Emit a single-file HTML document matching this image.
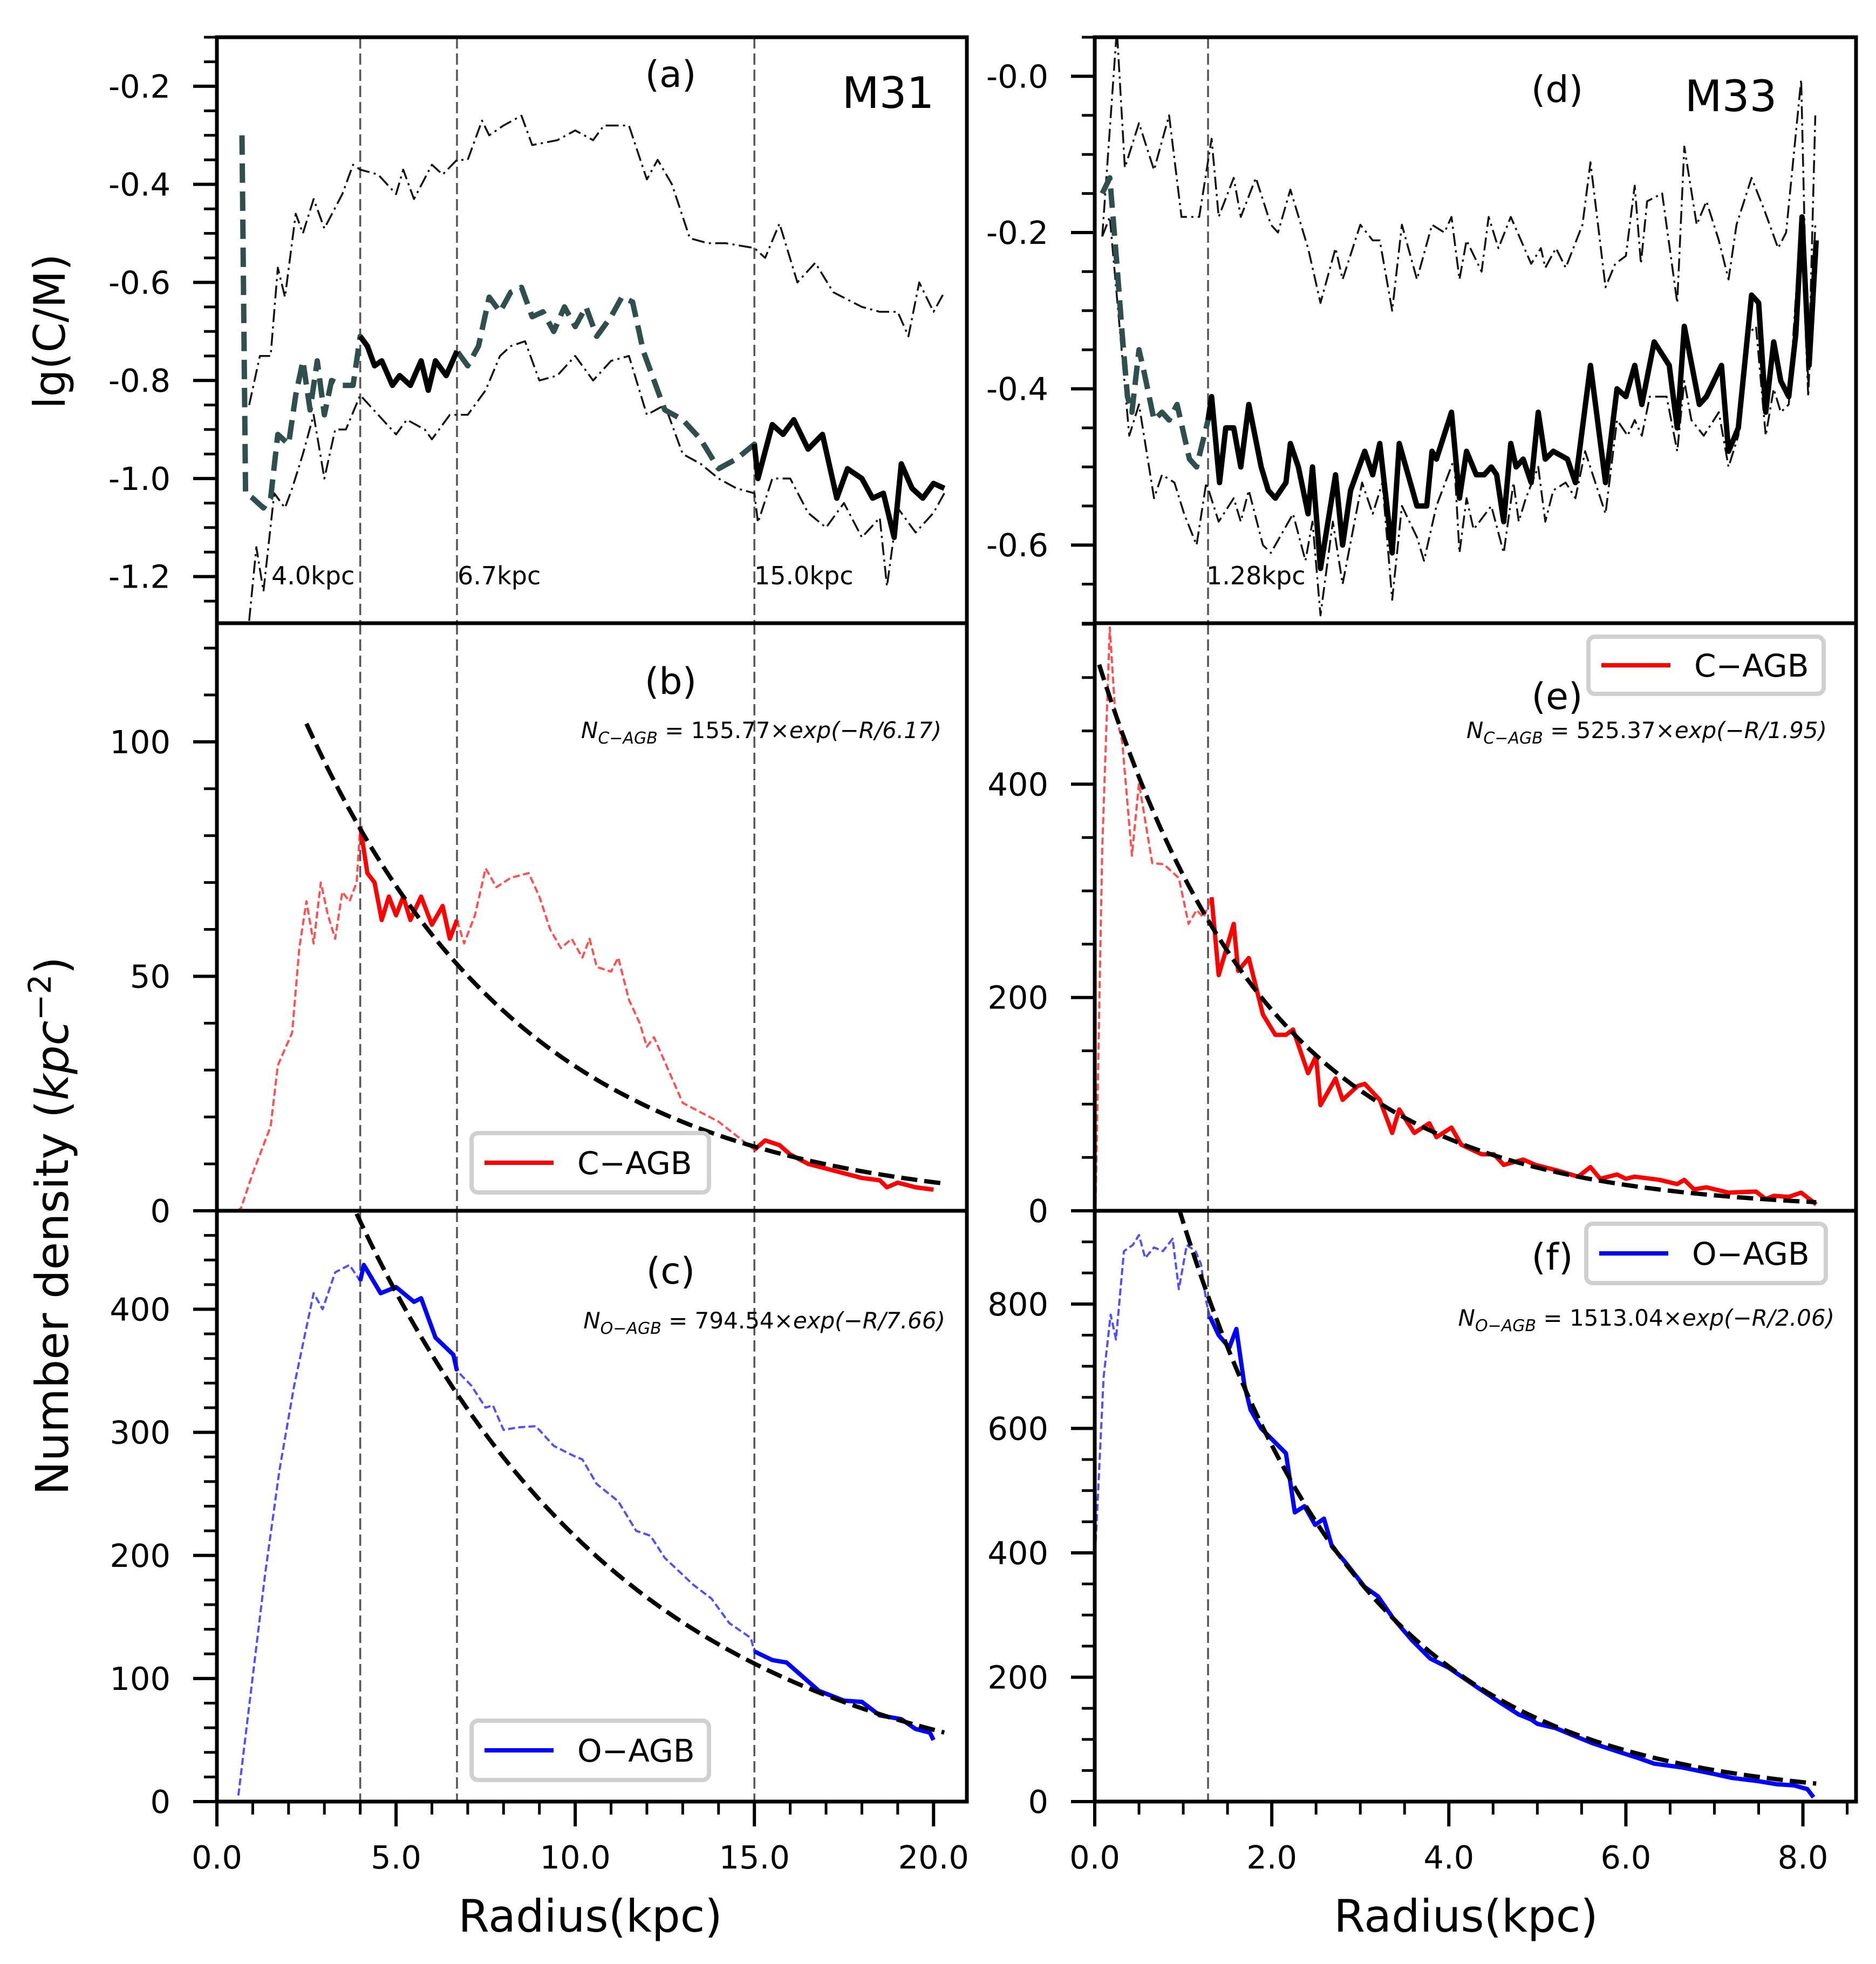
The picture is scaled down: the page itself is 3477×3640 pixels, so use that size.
<!DOCTYPE html>
<html><head><meta charset="utf-8">
<style>
html,body{margin:0;padding:0;background:#fff;}
svg{display:block;font-family:"DejaVu Sans","Liberation Sans",sans-serif;}
</style></head>
<body>
<svg id="fig" xmlns="http://www.w3.org/2000/svg" width="3477" height="3640" viewBox="0 0 3477 3640">
<rect x="0" y="0" width="3477" height="3640" fill="#fff"/>
</svg>
<script>
// ---------- DATA ----------
// Panel (a) M31 lg(C/M)
const aRatioR = [0.7,0.8,1.0,1.3,1.5,1.7,2.0,2.2,2.4,2.6,2.8,3.0,3.2,3.5,3.8,4.0,4.2,4.4,4.6,4.9,5.1,5.4,5.7,5.9,6.1,6.4,6.7,7.0,7.3,7.6,7.9,8.2,8.5,8.8,9.1,9.4,9.7,10.0,10.3,10.6,11.0,11.3,11.6,11.9,12.2,12.5,13.0,13.5,14.0,14.5,15.0,15.1,15.5,15.8,16.1,16.5,16.9,17.3,17.6,18.0,18.3,18.6,18.9,19.1,19.4,19.7,20.0,20.3];
const aRatioV = [-0.3,-1.03,-1.04,-1.06,-1.04,-0.91,-0.93,-0.83,-0.76,-0.86,-0.76,-0.87,-0.8,-0.81,-0.81,-0.71,-0.73,-0.77,-0.76,-0.81,-0.79,-0.81,-0.76,-0.82,-0.76,-0.79,-0.74,-0.77,-0.73,-0.63,-0.66,-0.62,-0.61,-0.67,-0.66,-0.7,-0.65,-0.69,-0.65,-0.71,-0.67,-0.63,-0.64,-0.74,-0.8,-0.86,-0.88,-0.92,-0.98,-0.96,-0.93,-1.0,-0.89,-0.91,-0.88,-0.94,-0.91,-1.04,-0.98,-1.0,-1.04,-1.03,-1.12,-0.97,-1.02,-1.04,-1.01,-1.02];
const aUpR = [0.9,1.2,1.5,1.7,1.9,2.2,2.4,2.7,3.0,3.5,3.8,4.0,4.5,5.0,5.2,5.5,6.0,6.3,6.7,7.0,7.4,7.6,8.0,8.5,8.8,9.5,10.0,10.5,10.8,11.5,12.0,12.3,12.7,13.2,13.7,14.2,15.0,15.3,15.7,16.2,16.7,17.2,18.0,18.5,19.0,19.3,19.6,20.0,20.3];
const aUpV = [-0.85,-0.75,-0.75,-0.57,-0.63,-0.46,-0.5,-0.43,-0.49,-0.42,-0.36,-0.37,-0.38,-0.42,-0.37,-0.43,-0.36,-0.38,-0.35,-0.35,-0.27,-0.3,-0.28,-0.26,-0.32,-0.31,-0.29,-0.31,-0.28,-0.28,-0.39,-0.35,-0.4,-0.51,-0.52,-0.52,-0.53,-0.55,-0.48,-0.6,-0.56,-0.62,-0.65,-0.66,-0.66,-0.71,-0.6,-0.66,-0.62];
const aLowR = [0.9,1.1,1.3,1.6,1.9,2.1,2.4,2.7,3.0,3.3,3.6,4.0,4.5,5.0,5.3,5.8,6.0,6.5,7.0,7.5,7.9,8.2,8.6,9.0,9.5,10.0,10.5,11.0,11.5,12.0,12.5,13.0,13.5,14.0,14.5,15.0,15.1,15.5,16.0,16.5,17.0,17.5,18.0,18.5,18.7,19.0,19.5,20.0,20.3];
const aLowV = [-1.29,-1.14,-1.23,-1.03,-1.06,-1.02,-0.95,-0.87,-1.0,-0.9,-0.9,-0.83,-0.87,-0.91,-0.88,-0.9,-0.92,-0.87,-0.87,-0.82,-0.75,-0.73,-0.72,-0.8,-0.79,-0.75,-0.8,-0.76,-0.75,-0.87,-0.85,-0.95,-0.97,-1.0,-1.02,-1.03,-1.09,-1.0,-1.0,-1.07,-1.1,-1.05,-1.12,-1.08,-1.22,-1.06,-1.11,-1.07,-1.03];
// Panel (b) M31 C-AGB density
const bR = [0.55,0.67,1.0,1.5,1.7,2.1,2.3,2.5,2.7,2.9,3.1,3.3,3.5,3.7,3.9,4.0,4.2,4.4,4.6,4.8,5.0,5.2,5.4,5.7,6.0,6.3,6.5,6.7,6.9,7.2,7.5,7.8,8.2,8.7,9.0,9.3,9.6,9.9,10.2,10.4,10.6,11.0,11.2,11.5,11.8,12.0,12.2,12.6,13.0,13.5,14.0,14.5,15.0,15.3,15.7,16.0,16.5,17.0,17.5,18.0,18.5,18.7,19.0,19.5,20.0];
const bV = [0,0.5,8,18,31,38,56,66,57,70,63,58,68,66,70,82,72,70,62,67,63,67,62,67,61,65,58,62,57,63,73,69,71,72,67,60,56,58,54,58,52,51,54,45,40,35,37,30,23,21,19,16,13,15,14,12,10,9,8,7,6.5,5,6,5,4.5];
// Panel (c) M31 O-AGB density
const cR = [0.6,1.35,1.75,2.15,2.7,2.95,3.3,3.7,4.0,4.1,4.57,5.0,5.5,5.7,6.1,6.6,6.7,7.1,7.5,7.7,8.0,8.4,8.9,9.4,9.95,10.2,10.6,11.2,11.7,12.1,12.5,13.3,13.8,14.3,14.9,15.0,15.5,15.9,16.8,17.5,18.0,18.5,19.1,19.5,19.9,20.0];
const cV = [5,186,270,337,413,400,430,436,423,436,413,418,406,409,377,363,350,338,320,322,302,304,305,289,281,278,258,244,220,216,198,176,165,145,133,122,115,113,90,82,81,70,67,59,56,50];
// Panel (d) M33 lg(C/M)
const dRatioR = [0.085,0.17,0.25,0.31,0.37,0.42,0.5,0.56,0.67,0.76,0.84,0.93,1.07,1.15,1.28,1.32,1.41,1.48,1.57,1.65,1.74,1.88,1.96,2.04,2.16,2.21,2.3,2.41,2.46,2.55,2.72,2.8,2.89,3.05,3.14,3.22,3.36,3.44,3.64,3.75,3.81,3.86,4.03,4.12,4.2,4.31,4.4,4.48,4.54,4.62,4.7,4.76,4.84,4.93,5.01,5.09,5.18,5.34,5.43,5.6,5.77,5.9,6.0,6.1,6.18,6.32,6.49,6.58,6.66,6.83,6.91,7.08,7.16,7.27,7.42,7.5,7.58,7.67,7.75,7.84,7.92,7.99,8.07,8.15];
const dRatioV = [-0.15,-0.13,-0.24,-0.33,-0.41,-0.43,-0.35,-0.38,-0.44,-0.43,-0.44,-0.42,-0.49,-0.5,-0.44,-0.41,-0.52,-0.45,-0.45,-0.5,-0.42,-0.5,-0.53,-0.54,-0.52,-0.47,-0.5,-0.56,-0.5,-0.63,-0.51,-0.6,-0.53,-0.48,-0.51,-0.47,-0.61,-0.47,-0.55,-0.55,-0.48,-0.49,-0.43,-0.54,-0.48,-0.51,-0.51,-0.5,-0.51,-0.57,-0.47,-0.5,-0.49,-0.52,-0.43,-0.49,-0.48,-0.49,-0.52,-0.37,-0.52,-0.4,-0.41,-0.37,-0.42,-0.34,-0.37,-0.45,-0.32,-0.42,-0.41,-0.37,-0.48,-0.45,-0.28,-0.29,-0.43,-0.34,-0.39,-0.41,-0.33,-0.18,-0.37,-0.21];
const dUpR = [0.085,0.25,0.34,0.5,0.67,0.84,0.98,1.18,1.32,1.4,1.57,1.65,1.82,1.99,2.07,2.21,2.41,2.55,2.72,2.8,3.0,3.14,3.22,3.36,3.47,3.64,3.81,3.95,4.03,4.12,4.2,4.37,4.45,4.56,4.7,4.93,5.04,5.09,5.21,5.32,5.51,5.6,5.77,5.88,6.0,6.1,6.17,6.24,6.41,6.58,6.66,6.8,6.91,7.05,7.16,7.25,7.42,7.56,7.72,7.81,7.98,8.06,8.14];
const dUpV = [-0.205,0.06,-0.117,-0.06,-0.12,-0.05,-0.18,-0.18,-0.08,-0.18,-0.13,-0.18,-0.13,-0.19,-0.2,-0.145,-0.22,-0.29,-0.22,-0.26,-0.19,-0.21,-0.21,-0.3,-0.19,-0.26,-0.19,-0.2,-0.18,-0.26,-0.21,-0.25,-0.18,-0.22,-0.18,-0.24,-0.22,-0.245,-0.22,-0.245,-0.19,-0.11,-0.27,-0.24,-0.23,-0.14,-0.24,-0.16,-0.15,-0.29,-0.09,-0.19,-0.16,-0.21,-0.26,-0.19,-0.13,-0.17,-0.22,-0.2,-0.004,-0.4,-0.05];
const dLowR = [0.085,0.17,0.39,0.5,0.67,0.76,0.9,1.01,1.15,1.26,1.4,1.57,1.65,1.74,1.9,1.99,2.24,2.38,2.46,2.55,2.69,2.8,3.02,3.14,3.25,3.36,3.47,3.64,3.72,3.86,4.06,4.12,4.2,4.28,4.48,4.62,4.73,4.79,4.87,5.01,5.09,5.18,5.32,5.43,5.54,5.77,5.9,6.02,6.1,6.18,6.27,6.46,6.58,6.66,6.74,6.88,7.05,7.16,7.27,7.38,7.47,7.58,7.67,7.75,7.84,7.98,8.06,8.14];
const dLowV = [-0.205,-0.18,-0.46,-0.42,-0.54,-0.51,-0.52,-0.56,-0.6,-0.52,-0.57,-0.54,-0.57,-0.53,-0.6,-0.61,-0.56,-0.62,-0.57,-0.69,-0.57,-0.65,-0.52,-0.56,-0.52,-0.67,-0.55,-0.59,-0.62,-0.55,-0.49,-0.61,-0.54,-0.58,-0.55,-0.61,-0.52,-0.57,-0.54,-0.5,-0.57,-0.53,-0.52,-0.54,-0.48,-0.56,-0.44,-0.46,-0.44,-0.46,-0.41,-0.41,-0.48,-0.39,-0.44,-0.46,-0.43,-0.5,-0.46,-0.33,-0.32,-0.46,-0.4,-0.43,-0.42,-0.18,-0.41,-0.19];
// Panel (e) M33 C-AGB density
const eR = [0.01,0.085,0.17,0.23,0.31,0.42,0.5,0.65,0.78,0.95,1.06,1.15,1.23,1.32,1.4,1.57,1.62,1.74,1.9,2.04,2.16,2.24,2.41,2.5,2.55,2.72,2.8,2.97,3.05,3.22,3.36,3.44,3.61,3.78,3.86,4.03,4.14,4.37,4.51,4.62,4.84,4.98,5.26,5.46,5.6,5.71,5.9,6.0,6.1,6.38,6.58,6.66,6.77,6.91,7.16,7.47,7.58,7.67,7.84,7.98,8.15];
const eV = [7,340,547,468,440,333,401,326,325,312,269,282,275,294,221,269,225,237,184,165,165,170,129,145,99,124,104,117,119,104,73,95,73,82,69,78,62,53,53,43,48,43,37,32,41,30,34,30,32,29,25,29,20,22,17,18,11,14,13,17,6];
// Panel (f) M33 O-AGB density
const fR = [0.0,0.1,0.18,0.24,0.33,0.43,0.5,0.57,0.67,0.77,0.88,0.95,1.04,1.14,1.2,1.26,1.3,1.4,1.52,1.6,1.69,1.76,1.88,2.02,2.16,2.26,2.37,2.49,2.59,2.68,2.83,2.94,3.05,3.2,3.37,3.58,3.79,4.0,4.36,4.57,4.79,4.93,5.0,5.21,5.43,5.62,5.92,6.14,6.32,6.63,7.01,7.2,7.49,7.7,7.9,8.05,8.12];
const fV = [385,682,783,743,885,895,911,874,891,885,905,824,895,885,864,804,780,750,730,760,670,630,600,580,560,465,475,445,455,410,385,365,345,330,295,260,230,215,180,160,140,132,125,118,105,94,80,70,61,55,44,38,33,28,26,20,7];
// Exponential fit parameters
const fitAmp = [155.77, 794.54, 525.37, 1513.04];
const fitScale = [6.17, 7.66, 1.95, 2.06];
const fitRange = [[2.5,20.3],[3.9,20.3],[0.05,8.15],[0.95,8.15]];
const boundM31 = [4.0, 6.7, 15.0];
const boundM33 = [1.28];
const ticksXLeft = [0,5,10,15,20];
const ticksXRight = [0,2,4,6,8];
const ticksA = [-1.2,-1.0,-0.8,-0.6,-0.4,-0.2];
const ticksB = [0,50,100];
const ticksC = [0,100,200,300,400];
const ticksD = [-0.6,-0.4,-0.2,0.0];
const ticksE = [0,200,400];
const ticksF = [0,200,400,600,800];

// ---------- RENDER ----------
const NS = "http://www.w3.org/2000/svg";
const svg = document.getElementById('fig');
function mk(tag, attrs, parent){
  const e = document.createElementNS(NS, tag);
  for (const k in attrs) e.setAttribute(k, attrs[k]);
  (parent||svg).appendChild(e);
  return e;
}
function panel(x0,x1,y0,y1,xmin,xmax,ymin,ymax){
  return {x0,x1,y0,y1,
    sx: v => x0 + (v-xmin)/(xmax-xmin)*(x1-x0),
    sy: v => y1 - (v-ymin)/(ymax-ymin)*(y1-y0)};
}
const L0=402, L1=1792, R0=2029, R1=3440;
const Y = [69,1155,2244,3339];
const P = {
  a: panel(L0,L1,Y[0],Y[1],0,20.93,-1.295,-0.1),
  b: panel(L0,L1,Y[1],Y[2],0,20.93,0,125.3),
  c: panel(L0,L1,Y[2],Y[3],0,20.93,0,480),
  d: panel(R0,R1,Y[0],Y[1],0,8.6,-0.7,0.05),
  e: panel(R0,R1,Y[1],Y[2],0,8.6,0,551),
  f: panel(R0,R1,Y[2],Y[3],0,8.6,0,950)
};
const defs = mk('defs',{});
for (const k in P){
  const p=P[k];
  const cp = mk('clipPath',{id:'clip-'+k},defs);
  mk('rect',{x:p.x0,y:p.y0,width:p.x1-p.x0,height:p.y1-p.y0},cp);
}
function pathD(p,xs,ys){
  let d='';
  for(let i=0;i<xs.length;i++){ d += (i?'L':'M') + p.sx(xs[i]).toFixed(1)+','+p.sy(ys[i]).toFixed(1); }
  return d;
}
function line(k,xs,ys,style,name){
  const p=P[k];
  const el = mk('path',Object.assign({d:pathD(p,xs,ys),fill:'none','clip-path':'url(#clip-'+k+')','stroke-linejoin':'round'},style));
  
  
  return el;
}
function seg(xs,ys,lo,hi,extend){
  let i0=-1,i1=-1;
  for(let i=0;i<xs.length;i++){ if(xs[i]>=lo && xs[i]<=hi){ if(i0<0)i0=i; i1=i; } }
  if(i0<0) return null;
  if(extend){ i0=Math.max(0,i0-1); i1=Math.min(xs.length-1,i1+1); }
  return [xs.slice(i0,i1+1), ys.slice(i0,i1+1)];
}
function drawSplit(k,xs,ys,dashedRanges,solidRanges,dashStyle,solidStyle,name){
  dashedRanges.forEach(r=>{const s=seg(xs,ys,r[0],r[1],true); if(s) line(k,s[0],s[1],dashStyle,name+'-dashed');});
  solidRanges.forEach(r=>{const s=seg(xs,ys,r[0],r[1],false); if(s) line(k,s[0],s[1],solidStyle,name+'-solid');});
}
function fit(k,i,name){
  const xs=[],ys=[]; const r=fitRange[i];
  for(let j=0;j<=120;j++){ const x=r[0]+(r[1]-r[0])*j/120; xs.push(x); ys.push(fitAmp[i]*Math.exp(-x/fitScale[i])); }
  line(k,xs,ys,{stroke:'#000','stroke-width':8,'stroke-dasharray':'30,13'},name);
}
function vline(k,x,name){
  const p=P[k];
  const el=mk('line',{x1:p.sx(x),x2:p.sx(x),y1:p.y0,y2:p.y1,stroke:'#555','stroke-width':3.5,'stroke-dasharray':'21,9'});
  
  
}
const DASHDOT={stroke:'#111','stroke-width':3.5,'stroke-dasharray':'24,8,4,8'};
const GREEN={stroke:'#2f4f4f','stroke-width':10,'stroke-dasharray':'36,16'};
const BLACK={stroke:'#000','stroke-width':10};
const M31D=[[0,4.0],[6.7,15.0]], M31S=[[4.0,6.7],[15.0,30]];
const M33D=[[0,1.28]], M33S=[[1.28,30]];

['a','b','c'].forEach(k=>boundM31.forEach(b=>vline(k,b,'boundary-line-'+b)));
['d','e','f'].forEach(k=>boundM33.forEach(b=>vline(k,b,'boundary-line-'+b)));

const RDASH={stroke:'#ff3030','stroke-width':4,'stroke-dasharray':'13,6','stroke-opacity':0.85};
const BDASH={stroke:'#3030ff','stroke-width':4,'stroke-dasharray':'13,6','stroke-opacity':0.85};
line('a',aUpR,aUpV,DASHDOT,'m31-upper-bound');
line('a',aLowR,aLowV,DASHDOT,'m31-lower-bound');
drawSplit('a',aRatioR,aRatioV,M31D,M31S,GREEN,BLACK,'m31-ratio');
drawSplit('b',bR,bV,M31D,M31S,RDASH,{stroke:'#ff0000','stroke-width':8},'m31-cagb');
fit('b',0,'m31-cagb-fit');
drawSplit('c',cR,cV,M31D,M31S,BDASH,{stroke:'#0000ff','stroke-width':8},'m31-oagb');
fit('c',1,'m31-oagb-fit');
line('d',dUpR,dUpV,DASHDOT,'m33-upper-bound');
line('d',dLowR,dLowV,DASHDOT,'m33-lower-bound');
drawSplit('d',dRatioR,dRatioV,M33D,M33S,GREEN,BLACK,'m33-ratio');
drawSplit('e',eR,eV,M33D,M33S,RDASH,{stroke:'#ff0000','stroke-width':8},'m33-cagb');
fit('e',2,'m33-cagb-fit');
drawSplit('f',fR,fV,M33D,M33S,BDASH,{stroke:'#0000ff','stroke-width':8},'m33-oagb');
fit('f',3,'m33-oagb-fit');

function text(x,y,str,size,anchor,name,extra){
  const t=mk('text',Object.assign({x:x,y:y,'font-size':size,'text-anchor':anchor||'start',fill:'#000'},extra||{}));
  t.textContent=str;
  
  
  return t;
}
function yAxis(k,ticks,minorStep,fmt,name){
  const p=P[k];
  const vmin = ticks[0]-40*minorStep, vmax=ticks[ticks.length-1]+40*minorStep;
  for(let v=Math.ceil(vmin/minorStep)*minorStep; v<=vmax; v+=minorStep){
    const y=p.sy(v); if(y<p.y0-1||y>p.y1+1) continue;
    mk('line',{x1:p.x0-24,x2:p.x0,y1:y,y2:y,stroke:'#000','stroke-width':5});
  }
  ticks.forEach(v=>{
    const y=p.sy(v);
    mk('line',{x1:p.x0-44,x2:p.x0,y1:y,y2:y,stroke:'#000','stroke-width':6});
    text(p.x0-86,y+21,fmt(v),59,'end',name+'-tick-label');
  });
}
function xAxis(k,ticks,minorStep,name){
  const p=P[k];
  for(let v=0; v<=ticks[ticks.length-1]+minorStep*2; v+=minorStep){
    const x=p.sx(v); if(x>p.x1+1) continue;
    mk('line',{x1:x,x2:x,y1:p.y1,y2:p.y1+24,stroke:'#000','stroke-width':5});
  }
  ticks.forEach(v=>{
    const x=p.sx(v);
    mk('line',{x1:x,x2:x,y1:p.y1,y2:p.y1+46,stroke:'#000','stroke-width':6});
    text(x,p.y1+124,v.toFixed(1),59,'middle',name+'-tick-label');
  });
}
const fmtA = v => (v<=0?'-':'')+Math.abs(v).toFixed(1);
const fmtI = v => String(v);
yAxis('a',ticksA,0.05,fmtA,'m31-ratio-y');
yAxis('b',ticksB,10,fmtI,'m31-cagb-y');
yAxis('c',ticksC,20,fmtI,'m31-oagb-y');
yAxis('d',ticksD,0.05,fmtA,'m33-ratio-y');
yAxis('e',ticksE,50,fmtI,'m33-cagb-y');
yAxis('f',ticksF,50,fmtI,'m33-oagb-y');
xAxis('c',ticksXLeft,1,'m31-x');
xAxis('f',ticksXRight,0.5,'m33-x');
for(const k in P){
  const p=P[k];
  const r=mk('rect',{x:p.x0,y:p.y0,width:p.x1-p.x0,height:p.y1-p.y0,fill:'none',stroke:'#000','stroke-width':7});
  
  
}

function legend(x,y,w,h,color,label,name){
  const g=mk('g',{});
  
  
  mk('rect',{x:x,y:y,width:w,height:h,rx:12,fill:'#fff',stroke:'#d0d0d0','stroke-width':8},g);
  mk('line',{x1:x+24,x2:x+152,y1:y+h/2,y2:y+h/2,stroke:color,'stroke-width':8},g);
  const t=mk('text',{x:x+196,y:y+h/2+21,'font-size':58,fill:'#000'},g);
  t.textContent=label;
}
legend(874,2100,440,110,'#ff0000','C\u2212AGB','m31-cagb-legend');
legend(874,3189,440,110,'#0000ff','O\u2212AGB','m31-oagb-legend');
legend(2944,1180,436,106,'#ff0000','C\u2212AGB','m33-cagb-legend');
legend(2940,2268,444,110,'#0000ff','O\u2212AGB','m33-oagb-legend');

text(1243,161,'(a)',68,'middle','panel-label-a');
text(1646,200,'M31',80,'middle','galaxy-label-m31');
text(1243,1286,'(b)',68,'middle','panel-label-b');
text(1243,2379,'(c)',68,'middle','panel-label-c');
text(2886,189,'(d)',68,'middle','panel-label-d');
text(3208,206,'M33',80,'middle','galaxy-label-m33');
text(2886,1314,'(e)',68,'middle','panel-label-e');
text(2877,2353,'(f)',68,'middle','panel-label-f');
text(503,1083,'4.0kpc',46,'start','boundary-label-4');
text(848,1083,'6.7kpc',46,'start','boundary-label-6-7');
text(1398,1083,'15.0kpc',46,'start','boundary-label-15');
text(2236,1083,'1.28kpc',46,'start','boundary-label-1-28');
function eq(xr,y,sub,rest,name){
  const t=mk('text',{x:xr,y:y,'font-size':42,'text-anchor':'end',fill:'#000'});
  
  
  const a=mk('tspan',{'font-style':'italic'},t); a.textContent='N';
  const b=mk('tspan',{'font-style':'italic','font-size':30,dy:10},t); b.textContent=sub;
  const c=mk('tspan',{dy:-10},t); c.textContent=rest[0];
  const d=mk('tspan',{'font-style':'italic'},t); d.textContent=rest[1];
}
eq(1745,1368,'C\u2212AGB',[' = 155.77\u00d7','exp(\u2212R/6.17)'],'m31-cagb-fit-equation');
eq(1752,2462,'O\u2212AGB',[' = 794.54\u00d7','exp(\u2212R/7.66)'],'m31-oagb-fit-equation');
eq(3386,1368,'C\u2212AGB',[' =  525.37\u00d7','exp(\u2212R/1.95)'],'m33-cagb-fit-equation');
eq(3400,2457,'O\u2212AGB',[' = 1513.04\u00d7','exp(\u2212R/2.06)'],'m33-oagb-fit-equation');
text(1094,3580,'Radius(kpc)',83,'middle','x-axis-title-m31');
text(2717,3580,'Radius(kpc)',83,'middle','x-axis-title-m33');
text(0,0,'lg(C/M)',80,'middle','y-axis-title-ratio',{transform:'translate(120,614) rotate(-90)'});
const yt2=mk('text',{'font-size':84,'text-anchor':'middle',transform:'translate(126,2272) rotate(-90)',fill:'#000'});


const s1=mk('tspan',{},yt2); s1.textContent='Number density (';
const s2=mk('tspan',{'font-style':'italic'},yt2); s2.textContent='kpc';
const s3=mk('tspan',{'font-size':58,dy:-32},yt2); s3.textContent='\u22122';
const s4=mk('tspan',{dy:32},yt2); s4.textContent=')';
</script>
</body></html>
